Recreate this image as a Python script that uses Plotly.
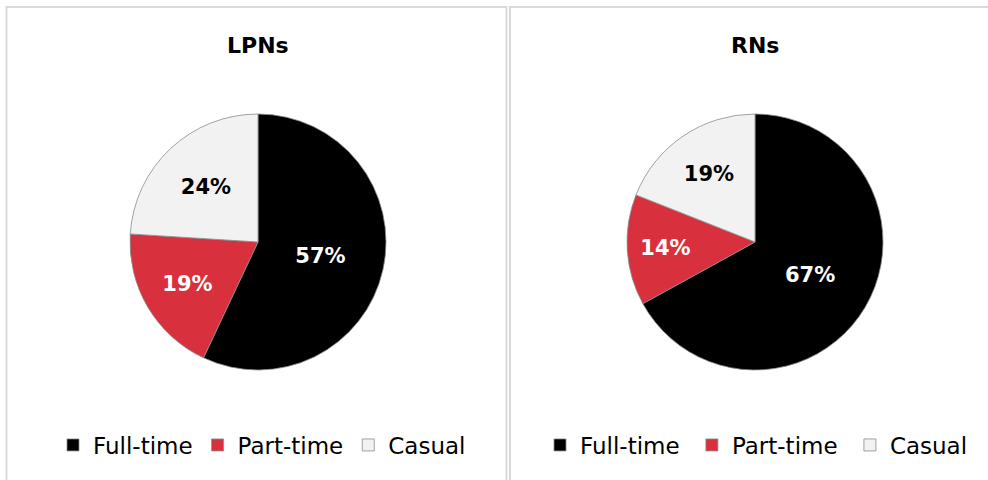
import plotly.graph_objects as go

# Employment status shares (%) by nursing group
categories = ["Full-time", "Part-time", "Casual"]
lpn_values = [57, 19, 24]
rn_values = [67, 14, 19]
panel_titles = ["LPNs", "RNs"]

slice_colors = ["#000000", "#D8303C", "#F2F2F2"]
label_colors = ["#FFFFFF", "#FFFFFF", "#000000"]
FONT = "Century Gothic, DejaVu Sans, sans-serif"

W, H = 988, 480


def px_x(v):
    return v / W


def px_y(v):
    return 1 - v / H


def pie(labels, values, x0, x1, legend_name):
    return go.Pie(
        labels=labels,
        values=values,
        sort=False,
        direction="clockwise",
        rotation=0,
        marker=dict(colors=slice_colors, line=dict(color="#8C8C8C", width=0.8)),
        texttemplate="%{percent:.0%}",
        textposition="inside",
        insidetextorientation="horizontal",
        textfont=dict(family=FONT, size=21, color=label_colors, weight="bold"),
        hoverinfo="label+percent",
        domain=dict(x=[px_x(x0), px_x(x1)], y=[px_y(370), px_y(114)]),
        legend=legend_name,
    )


# pie legends merge entries by label, so the second chart's labels carry a
# trailing space to keep its own legend entries
rn_labels = [c + "\u00a0" for c in categories]

fig = go.Figure()
fig.add_trace(pie(categories, lpn_values, 130, 386, "legend"))
fig.add_trace(pie(rn_labels, rn_values, 627, 883, "legend2"))

legend_style = dict(
    orientation="h",
    xanchor="center",
    yanchor="middle",
    y=px_y(445),
    font=dict(family=FONT, size=23, color="#000000"),
    bgcolor="rgba(0,0,0,0)",
    itemclick=False,
    itemdoubleclick=False,
    traceorder="normal",
)

title_font = dict(family=FONT, size=22, color="#000000")

fig.update_layout(
    width=W,
    height=H,
    margin=dict(l=0, r=0, t=0, b=0),
    paper_bgcolor="#FFFFFF",
    plot_bgcolor="#FFFFFF",
    showlegend=True,
    legend=dict(x=px_x(262), **legend_style),
    legend2=dict(x=px_x(760), **legend_style),
    annotations=[
        dict(text=f"<b>{panel_titles[0]}</b>", x=px_x(258), y=px_y(45), xref="paper", yref="paper",
             xanchor="center", yanchor="middle", showarrow=False, font=title_font),
        dict(text=f"<b>{panel_titles[1]}</b>", x=px_x(755), y=px_y(45), xref="paper", yref="paper",
             xanchor="center", yanchor="middle", showarrow=False, font=title_font),
    ],
    shapes=[
        # panel frames
        dict(type="rect", xref="paper", yref="paper", x0=px_x(6.5), x1=px_x(506.5),
             y0=px_y(500), y1=px_y(7), line=dict(color="#D9D9D9", width=2), layer="below"),
        dict(type="rect", xref="paper", yref="paper", x0=px_x(510), x1=px_x(1010),
             y0=px_y(500), y1=px_y(7), line=dict(color="#D9D9D9", width=2), layer="below"),
    ],
)

fig.write_html("out.html")
